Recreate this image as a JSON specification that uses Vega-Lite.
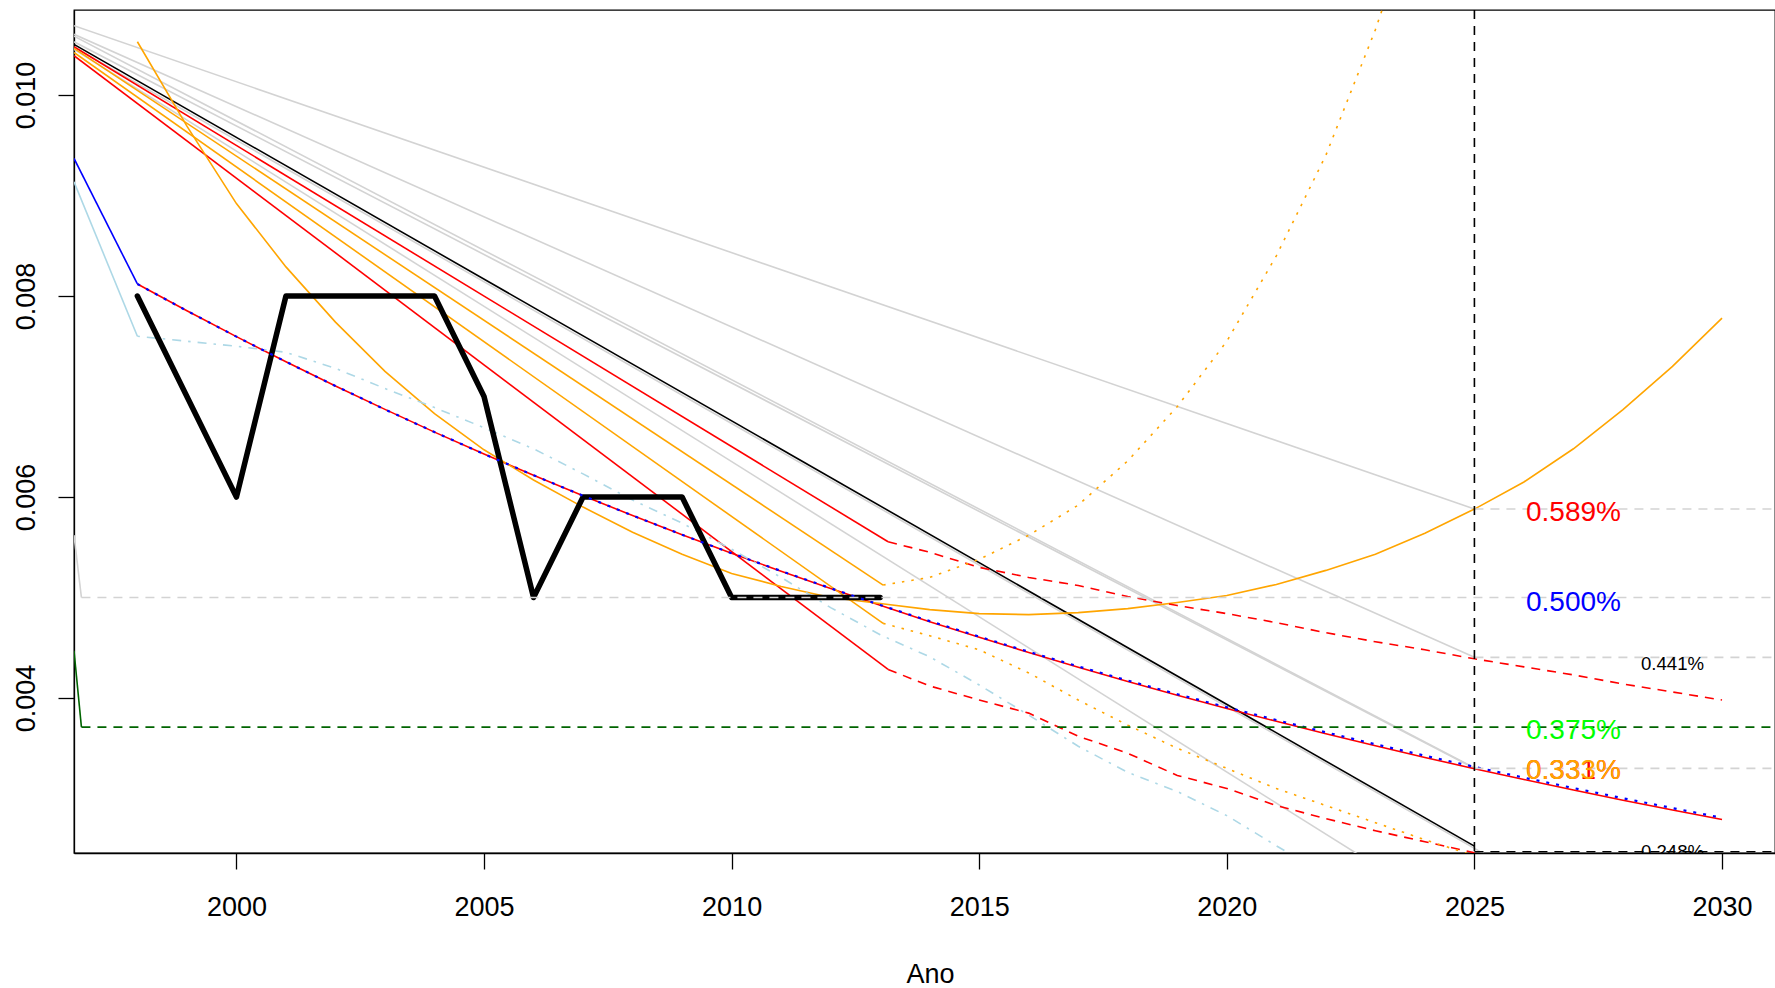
{
  "$schema": "https://vega.github.io/schema/vega-lite/v6.json",
  "width": 1701,
  "height": 843,
  "autosize": {"type": "none"},
  "padding": {"left": 74, "top": 10, "right": 0, "bottom": 135},
  "background": "white",
  "config": {"view": {"stroke": "black", "strokeWidth": 1.3}, "font": "Liberation Sans"},
  "datasets": {
    "L": [
      {"s":"g1","x":1996.72,"y":0.01069},{"s":"g1","x":2025,"y":0.005881},
      {"s":"g2","x":1996.72,"y":0.010604},{"s":"g2","x":2025,"y":0.004405},
      {"s":"g3","x":1996.72,"y":0.010586},{"s":"g3","x":2025,"y":0.003305},
      {"s":"g4","x":1996.72,"y":0.01053},{"s":"g4","x":2025,"y":0.0033},
      {"s":"gb","x":1996.72,"y":0.010475},{"s":"gb","x":2025,"y":0.002504},{"s":"gb","x":2027,"y":0.00194},
      {"s":"g5","x":1996.72,"y":0.010455},{"s":"g5","x":2025,"y":0.001719},
      {"s":"gpre","x":1996.72,"y":0.00562},{"s":"gpre","x":1996.87,"y":0.005},
      {"s":"blk","x":1996.72,"y":0.010504},{"s":"blk","x":2025,"y":0.002526},
      {"s":"r1","x":1996.72,"y":0.01048},{"s":"r1","x":2013.16,"y":0.005555},
      {"s":"r2","x":1996.72,"y":0.010391},{"s":"r2","x":2013.16,"y":0.004284},
      {"s":"o1","x":1996.72,"y":0.010464},{"s":"o1","x":2013.06,"y":0.005124},
      {"s":"o2","x":1996.72,"y":0.010424},{"s":"o2","x":2013.06,"y":0.004743},
      {"s":"bpre","x":1996.72,"y":0.009369},{"s":"bpre","x":1998,"y":0.00812},
      {"s":"lbpre","x":1996.72,"y":0.009136},{"s":"lbpre","x":1998,"y":0.0076},
      {"s":"rexp","x":1998,"y":0.00812},{"s":"rexp","x":1999,"y":0.007853},{"s":"rexp","x":2000,"y":0.007596},{"s":"rexp","x":2001,"y":0.007346},{"s":"rexp","x":2002,"y":0.007105},{"s":"rexp","x":2003,"y":0.006872},{"s":"rexp","x":2004,"y":0.006646},{"s":"rexp","x":2005,"y":0.006428},{"s":"rexp","x":2006,"y":0.006217},{"s":"rexp","x":2007,"y":0.006013},{"s":"rexp","x":2008,"y":0.005816},{"s":"rexp","x":2009,"y":0.005625},{"s":"rexp","x":2010,"y":0.00544},{"s":"rexp","x":2011,"y":0.005262},{"s":"rexp","x":2012,"y":0.005089},{"s":"rexp","x":2013,"y":0.004922},{"s":"rexp","x":2014,"y":0.00476},{"s":"rexp","x":2015,"y":0.004604},{"s":"rexp","x":2016,"y":0.004453},{"s":"rexp","x":2017,"y":0.004307},{"s":"rexp","x":2018,"y":0.004165},{"s":"rexp","x":2019,"y":0.004028},{"s":"rexp","x":2020,"y":0.003896},{"s":"rexp","x":2021,"y":0.003768},{"s":"rexp","x":2022,"y":0.003645},{"s":"rexp","x":2023,"y":0.003525},{"s":"rexp","x":2024,"y":0.003409},{"s":"rexp","x":2025,"y":0.003297},{"s":"rexp","x":2026,"y":0.003189},{"s":"rexp","x":2027,"y":0.003084},{"s":"rexp","x":2028,"y":0.002983},{"s":"rexp","x":2029,"y":0.002885},{"s":"rexp","x":2030,"y":0.002791},
      {"s":"bdot","x":1998,"y":0.00812},{"s":"bdot","x":1999,"y":0.007853},{"s":"bdot","x":2000,"y":0.007596},{"s":"bdot","x":2001,"y":0.007346},{"s":"bdot","x":2002,"y":0.007105},{"s":"bdot","x":2003,"y":0.006872},{"s":"bdot","x":2004,"y":0.006646},{"s":"bdot","x":2005,"y":0.006428},{"s":"bdot","x":2006,"y":0.006217},{"s":"bdot","x":2007,"y":0.006013},{"s":"bdot","x":2008,"y":0.005816},{"s":"bdot","x":2009,"y":0.005625},{"s":"bdot","x":2010,"y":0.00544},{"s":"bdot","x":2011,"y":0.005264},{"s":"bdot","x":2012,"y":0.005092},{"s":"bdot","x":2013,"y":0.004926},{"s":"bdot","x":2014,"y":0.004765},{"s":"bdot","x":2015,"y":0.00461},{"s":"bdot","x":2016,"y":0.00446},{"s":"bdot","x":2017,"y":0.004315},{"s":"bdot","x":2018,"y":0.004174},{"s":"bdot","x":2019,"y":0.004038},{"s":"bdot","x":2020,"y":0.003908},{"s":"bdot","x":2021,"y":0.003781},{"s":"bdot","x":2022,"y":0.003659},{"s":"bdot","x":2023,"y":0.00354},{"s":"bdot","x":2024,"y":0.003426},{"s":"bdot","x":2025,"y":0.003315},{"s":"bdot","x":2026,"y":0.003208},{"s":"bdot","x":2027,"y":0.003104},{"s":"bdot","x":2028,"y":0.003003},{"s":"bdot","x":2029,"y":0.002905},{"s":"bdot","x":2030,"y":0.002808},
      {"s":"lb","x":1998,"y":0.0076},{"s":"lb","x":1999,"y":0.00755},{"s":"lb","x":2000,"y":0.0075},{"s":"lb","x":2001,"y":0.00744},{"s":"lb","x":2002,"y":0.00728},{"s":"lb","x":2003,"y":0.00708},{"s":"lb","x":2004,"y":0.00689},{"s":"lb","x":2005,"y":0.00669},{"s":"lb","x":2006,"y":0.00648},{"s":"lb","x":2007,"y":0.00623},{"s":"lb","x":2008,"y":0.00597},{"s":"lb","x":2009,"y":0.00574},{"s":"lb","x":2010,"y":0.00548},{"s":"lb","x":2011,"y":0.0052},{"s":"lb","x":2012,"y":0.0049},{"s":"lb","x":2013,"y":0.00463},{"s":"lb","x":2014,"y":0.00441},{"s":"lb","x":2015,"y":0.00413},{"s":"lb","x":2016,"y":0.00383},{"s":"lb","x":2017,"y":0.00352},{"s":"lb","x":2018,"y":0.00326},{"s":"lb","x":2019,"y":0.00307},{"s":"lb","x":2020,"y":0.00283},{"s":"lb","x":2021,"y":0.00253},{"s":"lb","x":2022,"y":0.00224},
      {"s":"obs","x":1998,"y":0.008},{"s":"obs","x":1999,"y":0.007},{"s":"obs","x":2000,"y":0.006},{"s":"obs","x":2001,"y":0.008},{"s":"obs","x":2002,"y":0.008},{"s":"obs","x":2003,"y":0.008},{"s":"obs","x":2004,"y":0.008},{"s":"obs","x":2005,"y":0.007},{"s":"obs","x":2006,"y":0.005},{"s":"obs","x":2007,"y":0.006},{"s":"obs","x":2008,"y":0.006},{"s":"obs","x":2009,"y":0.006},{"s":"obs","x":2010,"y":0.005},{"s":"obs","x":2011,"y":0.005},{"s":"obs","x":2012,"y":0.005},{"s":"obs","x":2013,"y":0.005},
      {"s":"par","x":1998,"y":0.01053},{"s":"par","x":1999,"y":0.00969},{"s":"par","x":2000,"y":0.00892},{"s":"par","x":2001,"y":0.00829},{"s":"par","x":2002,"y":0.00774},{"s":"par","x":2003,"y":0.00725},{"s":"par","x":2004,"y":0.00683},{"s":"par","x":2005,"y":0.00647},{"s":"par","x":2006,"y":0.00617},{"s":"par","x":2007,"y":0.0059},{"s":"par","x":2008,"y":0.00565},{"s":"par","x":2009,"y":0.00543},{"s":"par","x":2010,"y":0.00524},{"s":"par","x":2011,"y":0.00511},{"s":"par","x":2012,"y":0.005},{"s":"par","x":2013,"y":0.00494},{"s":"par","x":2014,"y":0.00488},{"s":"par","x":2015,"y":0.00484},{"s":"par","x":2016,"y":0.00483},{"s":"par","x":2017,"y":0.00485},{"s":"par","x":2018,"y":0.00489},{"s":"par","x":2019,"y":0.00495},{"s":"par","x":2020,"y":0.00502},{"s":"par","x":2021,"y":0.00513},{"s":"par","x":2022,"y":0.00527},{"s":"par","x":2023,"y":0.00543},{"s":"par","x":2024,"y":0.00564},{"s":"par","x":2025,"y":0.00588},{"s":"par","x":2026,"y":0.00615},{"s":"par","x":2027,"y":0.00648},{"s":"par","x":2028,"y":0.00687},{"s":"par","x":2029,"y":0.0073},{"s":"par","x":2030,"y":0.00778},
      {"s":"rd1","x":2013.16,"y":0.005555},{"s":"rd1","x":2014,"y":0.00545},{"s":"rd1","x":2015,"y":0.0053},{"s":"rd1","x":2016,"y":0.0052},{"s":"rd1","x":2017,"y":0.00512},{"s":"rd1","x":2018,"y":0.00501},{"s":"rd1","x":2019,"y":0.00492},{"s":"rd1","x":2020,"y":0.00484},{"s":"rd1","x":2021,"y":0.00475},{"s":"rd1","x":2022,"y":0.00465},{"s":"rd1","x":2023,"y":0.00456},{"s":"rd1","x":2024,"y":0.00448},{"s":"rd1","x":2025,"y":0.00439},{"s":"rd1","x":2026,"y":0.00431},{"s":"rd1","x":2027,"y":0.00423},{"s":"rd1","x":2028,"y":0.00414},{"s":"rd1","x":2029,"y":0.00406},{"s":"rd1","x":2030,"y":0.00398},
      {"s":"rd2","x":2013.16,"y":0.004284},{"s":"rd2","x":2014,"y":0.00412},{"s":"rd2","x":2015,"y":0.00398},{"s":"rd2","x":2016,"y":0.00385},{"s":"rd2","x":2017,"y":0.00362},{"s":"rd2","x":2018,"y":0.00345},{"s":"rd2","x":2019,"y":0.00323},{"s":"rd2","x":2020,"y":0.0031},{"s":"rd2","x":2021,"y":0.00293},{"s":"rd2","x":2022,"y":0.0028},{"s":"rd2","x":2023,"y":0.00268},{"s":"rd2","x":2024,"y":0.00257},{"s":"rd2","x":2025,"y":0.00246},{"s":"rd2","x":2026,"y":0.00236},
      {"s":"od1","x":2013.06,"y":0.005124},{"s":"od1","x":2014,"y":0.0052},{"s":"od1","x":2015,"y":0.00538},{"s":"od1","x":2016,"y":0.00562},{"s":"od1","x":2017,"y":0.00592},{"s":"od1","x":2018,"y":0.00636},{"s":"od1","x":2019,"y":0.0069},{"s":"od1","x":2020,"y":0.00755},{"s":"od1","x":2021,"y":0.0084},{"s":"od1","x":2022,"y":0.0094},{"s":"od1","x":2023,"y":0.01065},{"s":"od1","x":2024,"y":0.0121},
      {"s":"od2","x":2013.06,"y":0.004743},{"s":"od2","x":2014,"y":0.00462},{"s":"od2","x":2015,"y":0.00448},{"s":"od2","x":2016,"y":0.00425},{"s":"od2","x":2017,"y":0.00398},{"s":"od2","x":2018,"y":0.00373},{"s":"od2","x":2019,"y":0.0035},{"s":"od2","x":2020,"y":0.0033},{"s":"od2","x":2021,"y":0.0031},{"s":"od2","x":2022,"y":0.00293},{"s":"od2","x":2023,"y":0.00276},{"s":"od2","x":2024,"y":0.00259},{"s":"od2","x":2025,"y":0.00243},
      {"s":"h500","x":1996.87,"y":0.005},{"s":"h500","x":2032,"y":0.005},
      {"s":"h589","x":2025,"y":0.005881},{"s":"h589","x":2032,"y":0.005881},
      {"s":"h441","x":2025,"y":0.004405},{"s":"h441","x":2032,"y":0.004405},
      {"s":"h333","x":2025,"y":0.0033},{"s":"h333","x":2032,"y":0.0033},
      {"s":"hbg","x":2025,"y":0.00247},{"s":"hbg","x":2032,"y":0.00247},
      {"s":"grpre","x":1996.72,"y":0.00447},{"s":"grpre","x":1996.87,"y":0.00371},
      {"s":"hgr","x":1996.87,"y":0.00371},{"s":"hgr","x":2032,"y":0.00371},
      {"s":"hbk","x":2025,"y":0.00247},{"s":"hbk","x":2032,"y":0.00247},
      {"s":"vl","x":2025,"y":0.002},{"s":"vl","x":2025,"y":0.0115}
    ],
    "T": [
      {"t":"0.589%","x":2027,"y":0.00584},
      {"t":"0.500%","x":2027,"y":0.00495},
      {"t":"0.441%","x":2029,"y":0.00434},
      {"t":"0.375%","x":2027,"y":0.003675},
      {"t":"0.331%","x":2027,"y":0.003273},
      {"t":"0.333%","x":2027,"y":0.003273},
      {"t":"0.248%","x":2029,"y":0.00247}
    ]
  },
  "encoding": {
    "x": {"field": "x", "type": "quantitative",
      "scale": {"domain": [1996.72, 2031.07], "nice": false, "zero": false},
      "axis": {"values": [2000, 2005, 2010, 2015, 2020, 2025, 2030], "format": "d", "title": "Ano", "grid": false,
        "tickSize": 16, "tickColor": "black", "tickWidth": 1.3, "domainColor": "black", "domainWidth": 1.3,
        "labelPadding": 25, "labelFontSize": 27, "labelFont": "Liberation Sans", "labelColor": "black", "labelOverlap": false, "labelFlush": false, "labelBound": false,
        "titleFontSize": 27, "titleFont": "Liberation Sans", "titleFontWeight": "normal", "titleColor": "black",
        "titleX": 856, "titleY": 129, "titleBaseline": "alphabetic", "titleAlign": "center"}},
    "y": {"field": "y", "type": "quantitative",
      "scale": {"domain": [0.002458, 0.010846], "nice": false, "zero": false},
      "axis": {"values": [0.004, 0.006, 0.008, 0.010], "format": ".3f", "title": null, "grid": false,
        "tickSize": 16, "tickColor": "black", "tickWidth": 1.3, "domainColor": "black", "domainWidth": 1.3,
        "labelAngle": 270, "labelAlign": "center", "labelBaseline": "bottom", "labelPadding": 18,
        "labelFontSize": 27, "labelFont": "Liberation Sans", "labelColor": "black", "labelOverlap": false, "labelFlush": false, "labelBound": false}}
  },
  "layer": [
    {"data": {"name": "L"}, "transform": [{"filter": {"field": "s", "oneOf": ["g1","g2","g3","g4","gb","g5","gpre"]}}],
     "mark": {"type": "line", "color": "#D3D3D3", "strokeWidth": 1.6, "clip": true}, "encoding": {"detail": {"field": "s"}}},
    {"data": {"name": "L"}, "transform": [{"filter": {"field": "s", "oneOf": ["blk"]}}],
     "mark": {"type": "line", "color": "black", "strokeWidth": 1.6, "clip": true}, "encoding": {"detail": {"field": "s"}}},
    {"data": {"name": "L"}, "transform": [{"filter": {"field": "s", "oneOf": ["r1","r2","rexp"]}}],
     "mark": {"type": "line", "color": "#FF0000", "strokeWidth": 1.6, "clip": true}, "encoding": {"detail": {"field": "s"}}},
    {"data": {"name": "L"}, "transform": [{"filter": {"field": "s", "oneOf": ["o1","o2","par"]}}],
     "mark": {"type": "line", "color": "#FFA500", "strokeWidth": 1.6, "clip": true}, "encoding": {"detail": {"field": "s"}}},
    {"data": {"name": "L"}, "transform": [{"filter": {"field": "s", "oneOf": ["bpre"]}}],
     "mark": {"type": "line", "color": "#0000FF", "strokeWidth": 1.6, "clip": true}, "encoding": {"detail": {"field": "s"}}},
    {"data": {"name": "L"}, "transform": [{"filter": {"field": "s", "oneOf": ["lbpre"]}}],
     "mark": {"type": "line", "color": "#ADD8E6", "strokeWidth": 1.6, "clip": true}, "encoding": {"detail": {"field": "s"}}},
    {"data": {"name": "L"}, "transform": [{"filter": {"field": "s", "oneOf": ["lb"]}}],
     "mark": {"type": "line", "color": "#ADD8E6", "strokeWidth": 1.6, "strokeDash": [2.5, 7, 9, 7], "clip": true}, "encoding": {"detail": {"field": "s"}}},
    {"data": {"name": "L"}, "transform": [{"filter": {"field": "s", "oneOf": ["obs"]}}],
     "mark": {"type": "line", "color": "black", "strokeWidth": 5.5, "strokeCap": "round", "strokeJoin": "round", "clip": true}, "encoding": {"detail": {"field": "s"}}},
    {"data": {"name": "L"}, "transform": [{"filter": {"field": "s", "oneOf": ["rd1","rd2"]}}],
     "mark": {"type": "line", "color": "#FF0000", "strokeWidth": 1.6, "strokeDash": [9, 7], "clip": true}, "encoding": {"detail": {"field": "s"}}},
    {"data": {"name": "L"}, "transform": [{"filter": {"field": "s", "oneOf": ["od1","od2"]}}],
     "mark": {"type": "line", "color": "#FFA500", "strokeWidth": 1.6, "strokeDash": [2.5, 7], "clip": true}, "encoding": {"detail": {"field": "s"}}},
    {"data": {"name": "L"}, "transform": [{"filter": {"field": "s", "oneOf": ["bdot"]}}],
     "mark": {"type": "line", "color": "#0000FF", "strokeWidth": 2.2, "strokeDash": [3, 7], "clip": true}, "encoding": {"detail": {"field": "s"}}},
    {"data": {"name": "L"}, "transform": [{"filter": {"field": "s", "oneOf": ["h500","h589","h441","h333","hbg"]}}],
     "mark": {"type": "line", "color": "#D3D3D3", "strokeWidth": 1.6, "strokeDash": [9, 7], "clip": true}, "encoding": {"detail": {"field": "s"}}},
    {"data": {"name": "L"}, "transform": [{"filter": {"field": "s", "oneOf": ["grpre"]}}],
     "mark": {"type": "line", "color": "#006400", "strokeWidth": 1.6, "clip": true}, "encoding": {"detail": {"field": "s"}}},
    {"data": {"name": "L"}, "transform": [{"filter": {"field": "s", "oneOf": ["hgr"]}}],
     "mark": {"type": "line", "color": "#006400", "strokeWidth": 1.6, "strokeDash": [9, 7], "clip": true}, "encoding": {"detail": {"field": "s"}}},
    {"data": {"name": "L"}, "transform": [{"filter": {"field": "s", "oneOf": ["hbk","vl"]}}],
     "mark": {"type": "line", "color": "black", "strokeWidth": 1.6, "strokeDash": [9, 7], "clip": true}, "encoding": {"detail": {"field": "s"}}},
    {"data": {"name": "T"}, "transform": [{"filter": {"field": "t", "oneOf": ["0.589%","0.331%"]}}],
     "mark": {"type": "text", "color": "#FF0000", "fontSize": 28, "font": "Liberation Sans", "align": "center", "baseline": "middle", "clip": true}, "encoding": {"text": {"field": "t"}}},
    {"data": {"name": "T"}, "transform": [{"filter": {"field": "t", "oneOf": ["0.500%"]}}],
     "mark": {"type": "text", "color": "#0000FF", "fontSize": 28, "font": "Liberation Sans", "align": "center", "baseline": "middle", "clip": true}, "encoding": {"text": {"field": "t"}}},
    {"data": {"name": "T"}, "transform": [{"filter": {"field": "t", "oneOf": ["0.375%"]}}],
     "mark": {"type": "text", "color": "#00FF00", "fontSize": 28, "font": "Liberation Sans", "align": "center", "baseline": "middle", "clip": true}, "encoding": {"text": {"field": "t"}}},
    {"data": {"name": "T"}, "transform": [{"filter": {"field": "t", "oneOf": ["0.333%"]}}],
     "mark": {"type": "text", "color": "#FFA500", "fontSize": 28, "font": "Liberation Sans", "align": "center", "baseline": "middle", "clip": true}, "encoding": {"text": {"field": "t"}}},
    {"data": {"name": "T"}, "transform": [{"filter": {"field": "t", "oneOf": ["0.441%","0.248%"]}}],
     "mark": {"type": "text", "color": "black", "fontSize": 18.6, "font": "Liberation Sans", "align": "center", "baseline": "middle", "clip": true}, "encoding": {"text": {"field": "t"}}}
  ]
}
